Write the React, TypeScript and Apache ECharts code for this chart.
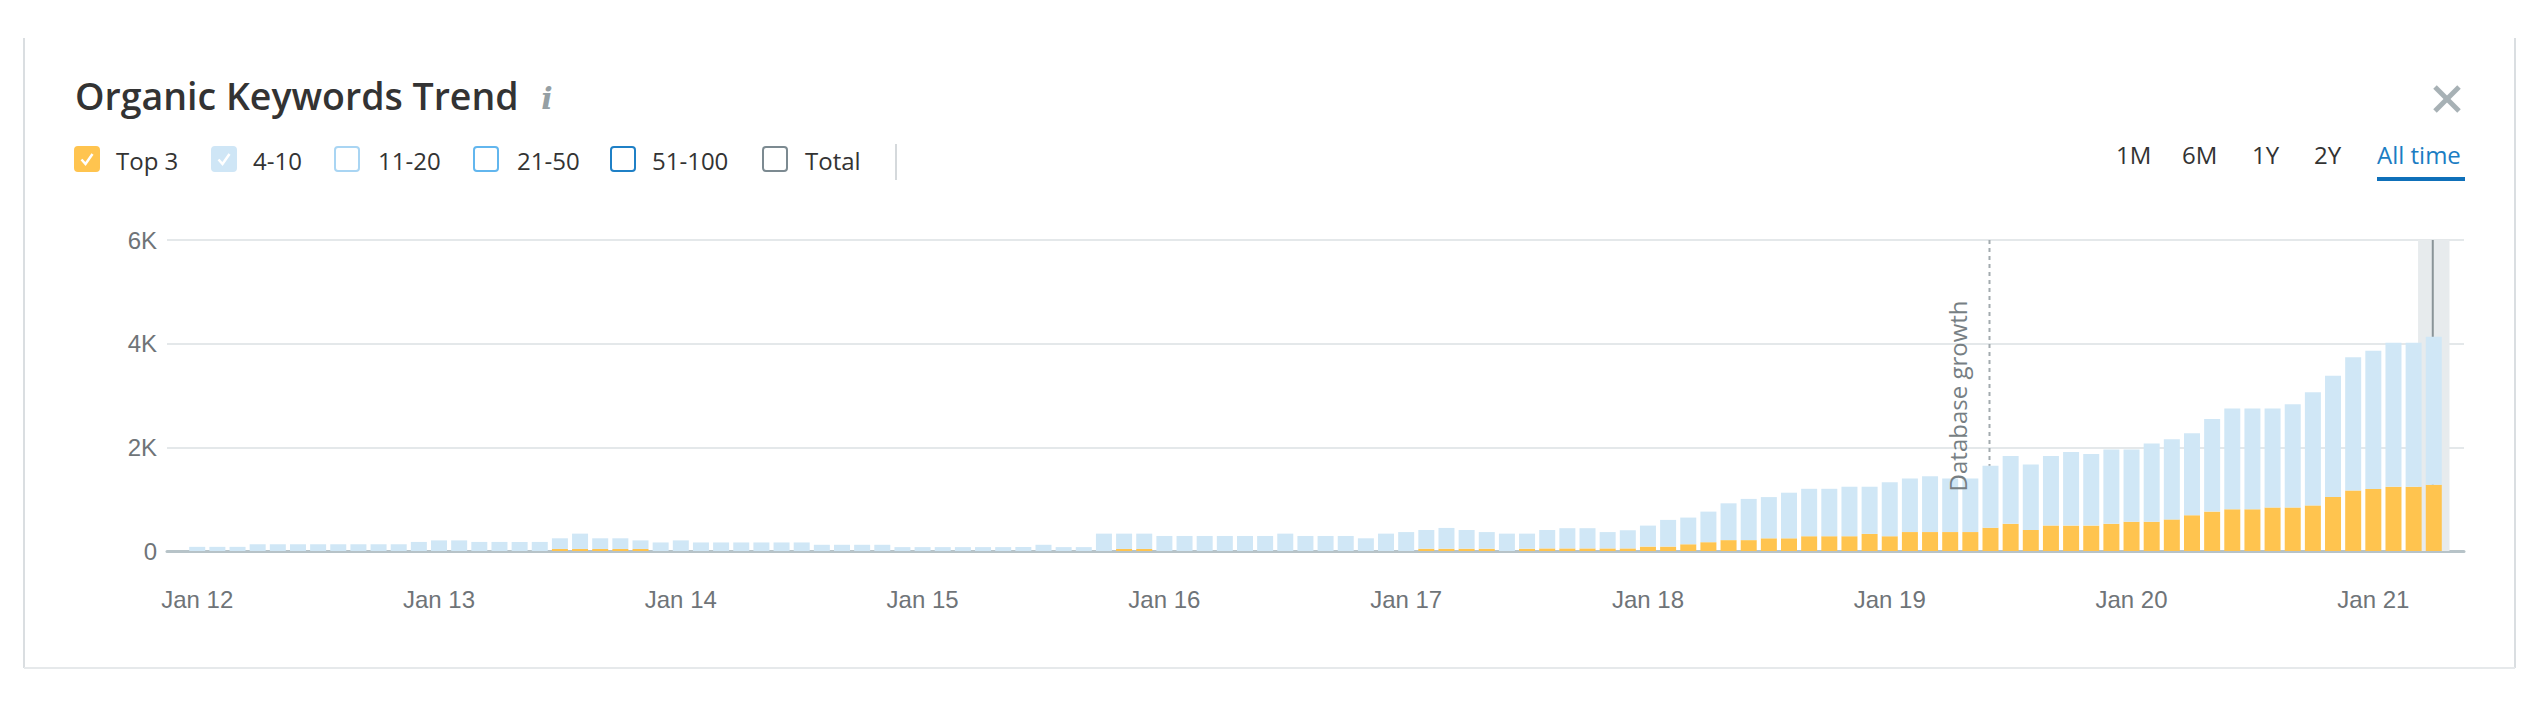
import React, { useEffect, useRef } from "react";
import * as echarts from "echarts";

// ---------- data ----------
const MONTH_NAMES = ["Jan", "Feb", "Mar", "Apr", "May", "Jun", "Jul", "Aug", "Sep", "Oct", "Nov", "Dec"];
const YEARS = [12, 13, 14, 15, 16, 17, 18, 19, 20, 21];
const LAST_YEAR_MONTHS = 4; // Jan..Apr 21
const CATEGORIES: string[] = [];
for (const y of YEARS) {
  const n = y === 21 ? LAST_YEAR_MONTHS : 12;
  for (let m = 0; m < n; m++) CATEGORIES.push(`${MONTH_NAMES[m]} ${y}`);
}
const PAD_BEFORE = "Dec 11";
const PAD_AFTER = "May 21";

// Top 3 positions (orange)
const TOP3 = [
  0, 0, 0, 0, 0, 0, 0, 0, 0, 0, 0, 0,
  0, 0, 0, 0, 0, 0, 40, 40, 40, 40, 40, 0,
  0, 0, 0, 0, 0, 0, 0, 0, 0, 0, 0, 0,
  0, 0, 0, 0, 0, 0, 0, 0, 0, 0, 40, 40,
  0, 0, 0, 0, 0, 0, 0, 0, 0, 0, 0, 0,
  0, 45, 45, 45, 45, 0, 45, 50, 50, 50, 50, 50,
  85, 85, 130, 170, 210, 210, 245, 245, 285, 285, 285, 330,
  285, 365, 365, 365, 365, 450, 525, 405, 490, 490, 490, 525,
  565, 565, 610, 690, 760, 805, 805, 840, 840, 880, 1040, 1165,
  1195, 1240, 1240, 1280,
];

// Positions 4-10 (light blue)
const POS_4_10 = [
  80, 80, 80, 130, 130, 130, 130, 130, 130, 130, 130, 175,
  205, 205, 175, 175, 175, 175, 205, 295, 205, 205, 165, 165,
  205, 165, 165, 165, 165, 165, 165, 120, 120, 120, 120, 75,
  75, 75, 75, 75, 75, 75, 120, 75, 75, 335, 295, 295,
  290, 290, 290, 290, 290, 290, 335, 290, 290, 290, 245, 335,
  365, 360, 400, 360, 320, 335, 290, 355, 390, 390, 315, 350,
  405, 515, 515, 590, 710, 795, 795, 880, 915, 915, 955, 910,
  1040, 1035, 1075, 1035, 1035, 1195, 1310, 1265, 1345, 1420, 1380, 1435,
  1395, 1510, 1545, 1580, 1785, 1945, 1945, 1910, 1990, 2185, 2340, 2575,
  2670, 2780, 2780, 2855,
];

const Y_TICKS = [0, 2000, 4000, 6000];
const Y_LABELS = ["0", "2K", "4K", "6K"];

const DB_GROWTH_MONTH = "Jun 19";
const DB_GROWTH_LABEL = "Database growth";
const HOVER_MONTH = "Apr 21";

const TITLE = "Organic Keywords Trend";
const LEGEND_ITEMS = [
  { name: "Top 3", checked: true, color: "#ffc44f", x: 75, tx: 116 },
  { name: "4-10", checked: true, color: "#cfe6f6", x: 212, tx: 253 },
  { name: "11-20", checked: false, color: "#a9d5f3", x: 335, tx: 378 },
  { name: "21-50", checked: false, color: "#62b6ee", x: 474, tx: 517 },
  { name: "51-100", checked: false, color: "#1f80c6", x: 611, tx: 652 },
  { name: "Total", checked: false, color: "#7c8a91", x: 763, tx: 805 },
];
const PERIODS = [
  { name: "1M", x: 2116 },
  { name: "6M", x: 2182 },
  { name: "1Y", x: 2252 },
  { name: "2Y", x: 2314 },
  { name: "All time", x: 2377, active: true },
];

const FONT = "'Open Sans', 'Noto Sans', sans-serif";
const AXIS_FONT = "'Liberation Sans', Arial, sans-serif";

function txt(text: string, x: number, y: number, opts: any = {}) {
  return {
    type: "text",
    x,
    y,
    z: opts.z ?? 10,
    rotation: opts.rotation ?? 0,
    style: {
      text,
      fill: opts.fill ?? "#333",
      fontSize: opts.fontSize ?? 24,
      fontFamily: opts.fontFamily ?? FONT,
      fontWeight: opts.fontWeight ?? "normal",
      fontStyle: opts.fontStyle ?? "normal",
      align: opts.align ?? "left",
      textAlign: opts.align ?? "left",
      verticalAlign: "middle",
      textVerticalAlign: "middle",
    },
  };
}

export default function App() {
  const ref = useRef<HTMLDivElement>(null);

  useEffect(() => {
    document.body.style.margin = "0";
    const el = ref.current!;
    const chart = echarts.init(el, undefined, { renderer: "svg" });

    const cats = [PAD_BEFORE, ...CATEGORIES, PAD_AFTER];
    const top3Data = [null, ...TOP3, null];
    const p410Data = [null, ...POS_4_10, null];

    const staticGraphics: any[] = [];
    // card borders
    staticGraphics.push(
      { type: "line", z: 0, shape: { x1: 24, y1: 38, x2: 24, y2: 668 }, style: { stroke: "#dadee1", lineWidth: 2 } },
      { type: "line", z: 0, shape: { x1: 2515, y1: 38, x2: 2515, y2: 668 }, style: { stroke: "#dadee1", lineWidth: 2 } },
      { type: "line", z: 0, shape: { x1: 24, y1: 668, x2: 2515, y2: 668 }, style: { stroke: "#e6e9eb", lineWidth: 2 } }
    );
    // title
    staticGraphics.push(txt(TITLE, 75, 95, { fontSize: 37.5, fontWeight: 600, fill: "#333" }));
    staticGraphics.push(
      txt("i", 547, 98, { fontSize: 30, fontFamily: "'DejaVu Serif', serif", fontStyle: "italic", fontWeight: "bold", fill: "#959fa4", align: "center" })
    );
    // legend
    LEGEND_ITEMS.forEach((it) => {
      staticGraphics.push({
        type: "rect",
        z: 10,
        shape: { x: it.x, y: 147, width: 24, height: 24, r: 3 },
        style: it.checked ? { fill: it.color, stroke: it.color, lineWidth: 2 } : { fill: "#fff", stroke: it.color, lineWidth: 2 },
      });
      if (it.checked) {
        staticGraphics.push({
          type: "polyline",
          z: 11,
          shape: { points: [[it.x + 6.5, 159.5], [it.x + 10.5, 164], [it.x + 17.5, 154]] },
          style: { stroke: "#fff", lineWidth: 2.5, fill: null },
        });
      }
      staticGraphics.push(txt(it.name, it.tx, 160, { fontSize: 24, fill: "#333" }));
    });
    staticGraphics.push({ type: "line", z: 10, shape: { x1: 896, y1: 144, x2: 896, y2: 180 }, style: { stroke: "#d5d9dc", lineWidth: 2 } });
    // periods
    PERIODS.forEach((p) => {
      staticGraphics.push(txt(p.name, p.x, 154, { fontSize: 24, fill: p.active ? "#1b7dc3" : "#333" }));
    });
    staticGraphics.push({ type: "rect", z: 10, shape: { x: 2377, y: 177, width: 88, height: 4 }, style: { fill: "#0f70b9" } });
    // close X
    staticGraphics.push(
      { type: "line", z: 10, shape: { x1: 2435, y1: 87, x2: 2459, y2: 111 }, style: { stroke: "#a7b1b5", lineWidth: 5 } },
      { type: "line", z: 10, shape: { x1: 2459, y1: 87, x2: 2435, y2: 111 }, style: { stroke: "#a7b1b5", lineWidth: 5 } }
    );

    const option: any = {
      animation: false,
      backgroundColor: "#ffffff",
      grid: { left: 167, right: 76, top: 240, bottom: 151 },
      xAxis: {
        type: "category",
        data: cats,
        boundaryGap: true,
        axisLine: { show: true, lineStyle: { color: "#b7c3c8", width: 3 } },
        axisTick: { show: false },
        axisLabel: {
          interval: (_i: number, v: string) => v.startsWith("Jan"),
          color: "#6f7478",
          fontSize: 24,
          fontFamily: AXIS_FONT,
          margin: 36,
        },
        splitLine: { show: false },
      },
      yAxis: {
        type: "value",
        min: 0,
        max: 6000,
        interval: 2000,
        axisLine: { show: false },
        axisTick: { show: false },
        axisLabel: {
          color: "#6f7478",
          fontSize: 24,
          fontFamily: AXIS_FONT,
          margin: 10,
          formatter: (v: number) => Y_LABELS[Y_TICKS.indexOf(v)] ?? String(v),
        },
        splitLine: { show: true, lineStyle: { color: "#e4e8ea", width: 2 } },
      },
      series: [
        {
          name: "Top 3",
          type: "bar",
          stack: "kw",
          data: top3Data,
          barWidth: 16,
          itemStyle: { color: "#ffc44f" },
          z: 3,
        },
        {
          name: "4-10",
          type: "bar",
          stack: "kw",
          data: p410Data,
          barWidth: 16,
          itemStyle: { color: "#d0e7f6" },
          z: 3,
        },
      ],
      graphic: { elements: staticGraphics },
    };
    chart.setOption(option);

    // dynamic graphics from the axes
    const xOf = (c: string) => chart.convertToPixel({ xAxisIndex: 0 }, c) as number;
    const yOf = (v: number) => chart.convertToPixel({ yAxisIndex: 0 }, v) as number;
    const pitch = xOf(CATEGORIES[1]) - xOf(CATEGORIES[0]);
    const y0 = yOf(0);
    const yTop = yOf(6000);
    const hx = xOf(HOVER_MONTH);
    const dx = xOf(DB_GROWTH_MONTH);
    const dyn: any[] = [
      {
        type: "rect",
        z: 1,
        shape: { x: hx - pitch * 0.78, y: yTop, width: pitch * 1.56, height: y0 - yTop },
        style: { fill: "#e7ebed" },
      },
      {
        type: "line",
        z: 2,
        shape: { x1: hx - 1, y1: yTop, x2: hx - 1, y2: y0 },
        style: { stroke: "#8a9498", lineWidth: 2 },
      },
      {
        type: "line",
        z: 2,
        shape: { x1: dx - 1, y1: yTop, x2: dx - 1, y2: y0 },
        style: { stroke: "#a3abaf", lineWidth: 2, lineDash: [4, 4] },
      },
      txt(DB_GROWTH_LABEL, dx - 33, yOf(1150), { rotation: Math.PI / 2, fontSize: 24, fill: "#777f84", z: 20 }),
    ];
    chart.setOption({ graphic: { elements: [...staticGraphics, ...dyn] } });

    return () => chart.dispose();
  }, []);

  return <div ref={ref} style={{ width: 2540, height: 702 }} />;
}
